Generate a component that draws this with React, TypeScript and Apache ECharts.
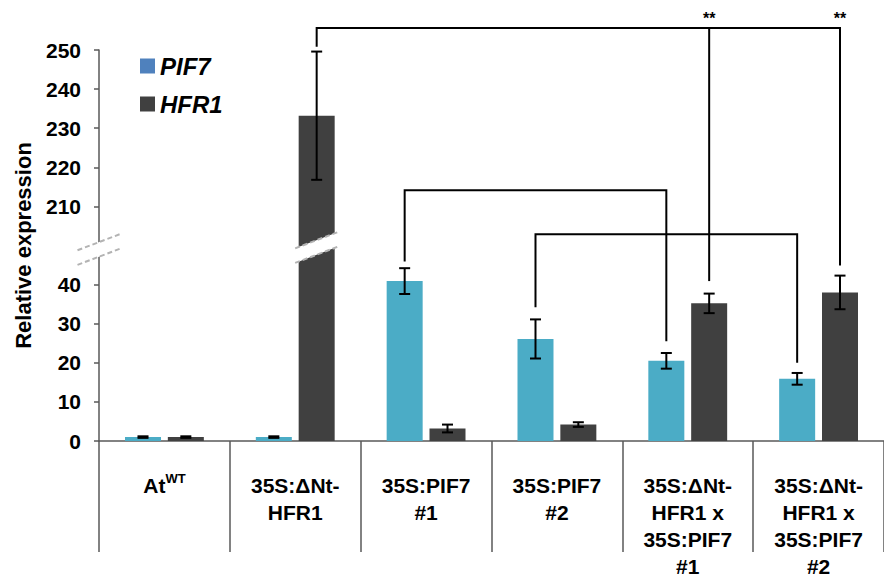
import React, { useEffect, useRef } from 'react';
import * as echarts from 'echarts';

// ---- data ----
const categories = [
  'AtWT',
  '35S:ΔNt-\nHFR1',
  '35S:PIF7\n#1',
  '35S:PIF7\n#2',
  '35S:ΔNt-\nHFR1 x\n35S:PIF7\n#1',
  '35S:ΔNt-\nHFR1 x\n35S:PIF7\n#2',
];
const seriesNames = ['PIF7', 'HFR1'];
const pif7 = [1.0, 1.0, 40.9, 26.1, 20.5, 15.9];
const pif7Err = [0.2, 0.2, 3.3, 5.0, 2.0, 1.5];
const hfr1 = [1.0, 233.2, 3.2, 4.2, 35.2, 38.0];
const hfr1Err = [0.2, 16.4, 1.0, 0.6, 2.5, 4.3];
const yTickValues = [0, 10, 20, 30, 40, 210, 220, 230, 240, 250];

// significance brackets (s: 0 = PIF7 bar, 1 = HFR1 bar)
const brackets = [
  { from: { cat: 1, s: 1, end: 250.8 }, top: 255.6, to: [{ cat: 4, s: 1, end: 40.9, mark: '**' }, { cat: 5, s: 1, end: 44.9, mark: '**' }] },
  { from: { cat: 2, s: 0, end: 45.9 }, top: 214.1, to: [{ cat: 4, s: 0, end: 25.5, mark: '' }] },
  { from: { cat: 3, s: 0, end: 34.2 }, top: 202.9, to: [{ cat: 5, s: 0, end: 20.0, mark: '' }] },
];
// axis break marks
const breaks = [
  { target: 'axis', cat: 0, s: 0, at: 49 },
  { target: 'bar', cat: 1, s: 1, at: 49.5 },
];

// ---- scale break ----
const BREAK_AT = 50;
const BREAK_GAP = 150;
const toAxis = (v: number) => (v > BREAK_AT ? v - BREAK_GAP : v);
const fromAxis = (v: number) => (v > BREAK_AT ? v + BREAK_GAP : v);

const BAR_W = 36;
const BAR_GAP = 0.19;
const OFF = (BAR_W * (1 + BAR_GAP)) / 2;
const FONT = 'Liberation Sans, Arial, Helvetica, sans-serif';
const AXIS_COLOR = '#595959';

export default function App() {
  const ref = useRef<HTMLDivElement>(null);
  useEffect(() => {
    if (!ref.current) return;
    const chart = echarts.init(ref.current, undefined, { renderer: 'svg' });

    const px = (api: any, cat: number, s: number, val: number) => {
      const c = api.coord([cat, toAxis(val)]);
      return [c[0] + (s === 0 ? -OFF : OFF), c[1]];
    };

    const errData: any[] = [];
    pif7.forEach((v, i) => errData.push([i, v, pif7Err[i], 0]));
    hfr1.forEach((v, i) => errData.push([i, v, hfr1Err[i], 1]));

    const option: any = {
      animation: false,
      grid: { left: 99, right: -8, top: 50, height: 396, containLabel: false },
      legend: {
        orient: 'vertical',
        left: 135,
        top: 49,
        itemWidth: 15,
        itemHeight: 15,
        itemGap: 14,
        icon: 'rect',
        selectedMode: false,
        data: [
          { name: 'PIF7', itemStyle: { color: '#4F81BD' } },
          { name: 'HFR1', itemStyle: { color: '#404040' } },
        ],
        textStyle: { fontSize: 24, fontWeight: 'bold', fontStyle: 'italic', color: '#000', fontFamily: FONT, lineHeight: 24 },
      },
      xAxis: {
        type: 'category',
        data: categories,
        boundaryGap: true,
        axisLine: { show: true, lineStyle: { color: AXIS_COLOR, width: 1.5 } },
        axisTick: { show: true, length: 111, lineStyle: { color: AXIS_COLOR, width: 1.5 } },
        axisLabel: {
          interval: 0,
          margin: 31,
          fontSize: 21,
          fontWeight: 'bold',
          lineHeight: 27,
          color: '#000',
          fontFamily: FONT,
          formatter: (v: string) => (v === 'AtWT' ? '{b|At}{sup|WT}' : v),
          rich: {
            b: { fontSize: 21, fontWeight: 'bold', lineHeight: 27, color: '#000', fontFamily: FONT },
            sup: { fontSize: 13, fontWeight: 'bold', lineHeight: 20, verticalAlign: 'top', color: '#000', fontFamily: FONT },
          },
        },
        splitLine: { show: false },
      },
      yAxis: {
        type: 'value',
        min: 0,
        max: 100,
        interval: 10,
        name: 'Relative expression',
        nameLocation: 'middle',
        nameGap: 65,
        nameRotate: 90,
        nameTextStyle: { fontSize: 22, fontWeight: 'bold', color: '#000', fontFamily: FONT },
        axisLine: { show: true, lineStyle: { color: AXIS_COLOR, width: 1.5 } },
        axisTick: { show: true, length: 5, customValues: yTickValues.map(toAxis), lineStyle: { color: AXIS_COLOR, width: 1.5 } },
        axisLabel: {
          customValues: yTickValues.map(toAxis),
          margin: 18,
          fontSize: 21,
          fontWeight: 'bold',
          color: '#000',
          fontFamily: FONT,
          formatter: (v: number) => (v === BREAK_AT ? '' : String(fromAxis(v))),
        },
        splitLine: { show: false },
      },
      series: [
        {
          name: seriesNames[0],
          type: 'bar',
          data: pif7.map(toAxis),
          barWidth: BAR_W,
          barGap: BAR_GAP * 100 + '%',
          itemStyle: { color: '#4BACC6' },
          z: 2,
        },
        {
          name: seriesNames[1],
          type: 'bar',
          data: hfr1.map(toAxis),
          barWidth: BAR_W,
          barGap: BAR_GAP * 100 + '%',
          itemStyle: { color: '#404040' },
          z: 2,
        },
        {
          name: 'errors',
          type: 'custom',
          clip: false,
          z: 5,
          data: errData,
          renderItem: (params: any, api: any) => {
            const cat = api.value(0);
            const v = api.value(1);
            const e = api.value(2);
            const s = api.value(3);
            const top = px(api, cat, s, v + e);
            const bot = px(api, cat, s, v - e);
            const hw = 5.5;
            const st = { stroke: '#000', lineWidth: 2 };
            return {
              type: 'group',
              children: [
                { type: 'line', shape: { x1: top[0], y1: top[1], x2: bot[0], y2: bot[1] }, style: st },
                { type: 'line', shape: { x1: top[0] - hw, y1: top[1], x2: top[0] + hw, y2: top[1] }, style: st },
                { type: 'line', shape: { x1: bot[0] - hw, y1: bot[1], x2: bot[0] + hw, y2: bot[1] }, style: st },
              ],
            };
          },
        },
        {
          name: 'breaks',
          type: 'custom',
          clip: false,
          z: 10,
          data: breaks.map((b, i) => [b.cat, toAxis(b.at), i]),
          renderItem: (params: any, api: any) => {
            const b = breaks[params.dataIndex];
            let cx: number;
            const cy = api.coord([0, toAxis(b.at)])[1];
            if (b.target === 'axis') cx = params.coordSys.x;
            else cx = px(api, b.cat, b.s, b.at)[0];
            const hw = 21.5;
            const slope = -0.38;
            const gh = 7.3;
            const yAt = (x: number, d: number) => cy + d + slope * (x - cx);
            const x1 = cx - hw;
            const x2 = cx + hw;
            const dash = { stroke: '#b3b3b3', lineWidth: 2, lineDash: [5, 3] };
            return {
              type: 'group',
              children: [
                {
                  type: 'polygon',
                  shape: { points: [[x1, yAt(x1, -gh)], [x2, yAt(x2, -gh)], [x2, yAt(x2, gh)], [x1, yAt(x1, gh)]] },
                  style: { fill: '#fff' },
                },
                { type: 'line', shape: { x1, y1: yAt(x1, -gh), x2, y2: yAt(x2, -gh) }, style: dash },
                { type: 'line', shape: { x1, y1: yAt(x1, gh), x2, y2: yAt(x2, gh) }, style: dash },
              ],
            };
          },
        },
        {
          name: 'brackets',
          type: 'custom',
          clip: false,
          z: 6,
          data: brackets.map((b, i) => [b.from.cat, toAxis(b.top), i]),
          renderItem: (params: any, api: any) => {
            const b = brackets[params.dataIndex];
            const st = { stroke: '#000', lineWidth: 2, fill: 'none' };
            const start = px(api, b.from.cat, b.from.s, b.from.end);
            const topY = px(api, b.from.cat, b.from.s, b.top)[1];
            const legs = b.to.map((t) => ({ p: px(api, t.cat, t.s, t.end), mark: t.mark }));
            const last = legs[legs.length - 1];
            const children: any[] = [
              {
                type: 'polyline',
                shape: { points: [[start[0], start[1]], [start[0], topY], [last.p[0], topY], [last.p[0], last.p[1]]] },
                style: st,
              },
            ];
            legs.forEach((l, i) => {
              if (i < legs.length - 1) {
                children.push({ type: 'line', shape: { x1: l.p[0], y1: topY, x2: l.p[0], y2: l.p[1] }, style: st });
              }
              if (l.mark) {
                children.push({
                  type: 'text',
                  style: {
                    x: l.p[0],
                    y: topY - 10,
                    text: l.mark,
                    align: 'center',
                    verticalAlign: 'middle',
                    fontSize: 16,
                    fontWeight: 'bold',
                    fontFamily: FONT,
                    fill: '#000',
                  },
                });
              }
            });
            return { type: 'group', children };
          },
        },
      ],
    };
    chart.setOption(option);
    return () => chart.dispose();
  }, []);
  return <div ref={ref} style={{ position: 'absolute', left: 0, top: 0, width: 884, height: 580 }} />;
}
